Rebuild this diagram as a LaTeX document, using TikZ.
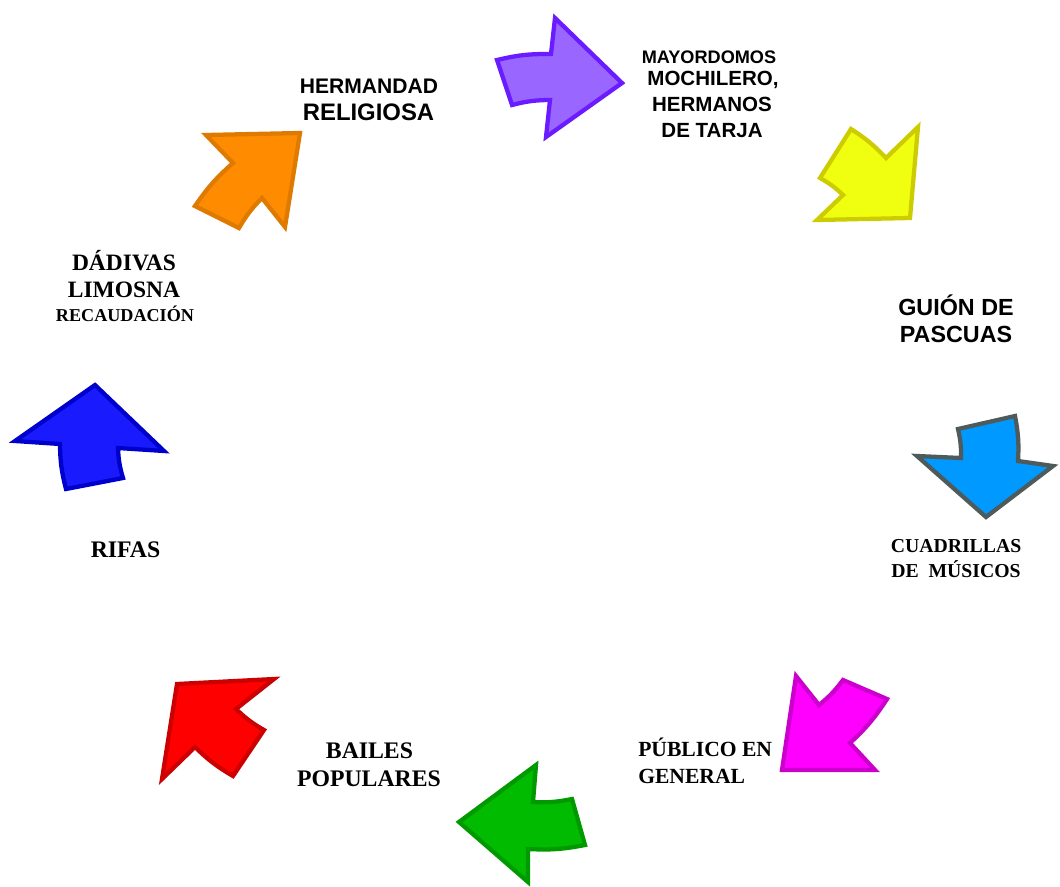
\documentclass[tikz,border=0pt]{standalone}
\usepackage{fontspec}
\setmainfont{Liberation Serif}
\setsansfont{Liberation Sans}
\definecolor{orangeF}{HTML}{FF8C00}\definecolor{orangeD}{HTML}{DF7A00}
\definecolor{purpleF}{HTML}{9966FF}\definecolor{purpleD}{HTML}{6A1BFF}
\definecolor{yellowF}{HTML}{F0FF10}\definecolor{yellowD}{HTML}{CCCC00}
\definecolor{skyF}{HTML}{0099FF}\definecolor{skyD}{HTML}{4F5B5B}
\definecolor{magF}{HTML}{FF00FF}\definecolor{magD}{HTML}{CC00CC}
\definecolor{greenF}{HTML}{00BB00}\definecolor{greenD}{HTML}{009900}
\definecolor{redF}{HTML}{FF0000}\definecolor{redD}{HTML}{CC0000}
\definecolor{blueF}{HTML}{1A1AFF}\definecolor{blueD}{HTML}{0000CC}
\tikzset{
  bigarrow/.style={line width=3.2pt, line join=miter, miter limit=4},
  sanslbl/.style={inner sep=0pt, anchor=base, font=\sffamily\bfseries},
  seriflbl/.style={inner sep=0pt, anchor=base, font=\rmfamily\bfseries},
  br/.style={bend right=7}, bl/.style={bend left=7}
}
\begin{document}
\begin{tikzpicture}[x=0.75pt,y=-0.75pt]
\useasboundingbox (0,0) rectangle (1060,886);
% orange
\filldraw[bigarrow, fill=orangeF, draw=orangeD] (300,133) -- (285,227) -- (262,198) to[br] (239,228) -- (195,206) to[bl] (233,163) -- (206,135) -- cycle;
% purple
\filldraw[bigarrow, fill=purpleF, draw=purpleD] (622,83) -- (546,137) -- (550,100) to[br] (512,105) -- (497,60) to[bl] (551,54) -- (555,18) -- cycle;
% yellow
\filldraw[bigarrow, fill=yellowF, draw=yellowD] (910,218) -- (817,220) -- (843,195) to[br] (820,178) -- (851,129) to[bl] (886,158) -- (918,127) -- cycle;
% sky blue
\filldraw[bigarrow, fill=skyF, draw=skyD] (986,517) -- (917,456) -- (961,458) to[br] (958,429) -- (1015,416) to[bl] (1018,461) -- (1053,466) -- cycle;
% magenta
\filldraw[bigarrow, fill=magF, draw=magD] (782,770) -- (796,676) -- (819,705) to[br] (843,680) -- (887,699) to[bl] (850,743) -- (875,770) -- cycle;
% green
\filldraw[bigarrow, fill=greenF, draw=greenD] (459,822) -- (536,765) -- (533,802) to[br] (572,799) -- (585,845) to[bl] (528,849) -- (528,882) -- cycle;
% red
\filldraw[bigarrow, fill=redF, draw=redD] (177,684) -- (274,679) -- (236,709) to[br] (264,730) -- (233,776) to[bl] (195,747) -- (162,779) -- cycle;
% blue
\filldraw[bigarrow, fill=blueF, draw=blueD] (95,385) -- (15,441) -- (60,444) to[br] (66,489) -- (123,478) to[bl] (118,448) -- (164,451) -- cycle;

% labels
\node[sanslbl, font=\sffamily\bfseries\fontsize{15.8}{18}\selectfont] (herm1) at (369,93) {HERMANDAD};
\node[sanslbl, font=\sffamily\bfseries\fontsize{17.9}{20}\selectfont] (herm2) at (368.5,120) {RELIGIOSA};

\node[sanslbl, font=\sffamily\bfseries\fontsize{13.6}{16}\selectfont] (may1) at (709,63) {MAYORDOMOS};
\node[sanslbl, font=\sffamily\bfseries\fontsize{15.4}{18}\selectfont] (may2) at (713,85) {MOCHILERO,};
\node[sanslbl, font=\sffamily\bfseries\fontsize{15.4}{18}\selectfont] (may3) at (712,111) {HERMANOS};
\node[sanslbl, font=\sffamily\bfseries\fontsize{15.4}{18}\selectfont] (may4) at (712,137) {DE TARJA};

\node[sanslbl, font=\sffamily\bfseries\fontsize{17.5}{20}\selectfont] (gui1) at (956,315) {GUIÓN DE};
\node[sanslbl, font=\sffamily\bfseries\fontsize{17.5}{20}\selectfont] (gui2) at (956,342) {PASCUAS};

\node[seriflbl, font=\rmfamily\bfseries\fontsize{14.8}{17}\selectfont] (cua1) at (956,552) {CUADRILLAS};
\node[seriflbl, font=\rmfamily\bfseries\fontsize{14.8}{17}\selectfont] (cua2) at (956,577) {DE\ \ MÚSICOS};

\node[seriflbl, anchor=base west, font=\rmfamily\bfseries\fontsize{16.2}{19}\selectfont] (pub1) at (638,756) {PÚBLICO EN};
\node[seriflbl, anchor=base west, font=\rmfamily\bfseries\fontsize{16.2}{19}\selectfont] (pub2) at (638,783) {GENERAL};

\node[seriflbl, font=\rmfamily\bfseries\fontsize{17.8}{20}\selectfont] (bai1) at (369.5,758) {BAILES};
\node[seriflbl, font=\rmfamily\bfseries\fontsize{17.8}{20}\selectfont] (bai2) at (369,786) {POPULARES};

\node[seriflbl, font=\rmfamily\bfseries\fontsize{17.8}{20}\selectfont] (rif) at (125.5,557) {RIFAS};

\node[seriflbl, font=\rmfamily\bfseries\fontsize{17.6}{20}\selectfont] (dad1) at (124,270) {DÁDIVAS};
\node[seriflbl, font=\rmfamily\bfseries\fontsize{17.6}{20}\selectfont] (dad2) at (124,297) {LIMOSNA};
\node[seriflbl, font=\rmfamily\bfseries\fontsize{13.6}{16}\selectfont] (dad3) at (125,321) {RECAUDACIÓN};
\end{tikzpicture}
\end{document}
